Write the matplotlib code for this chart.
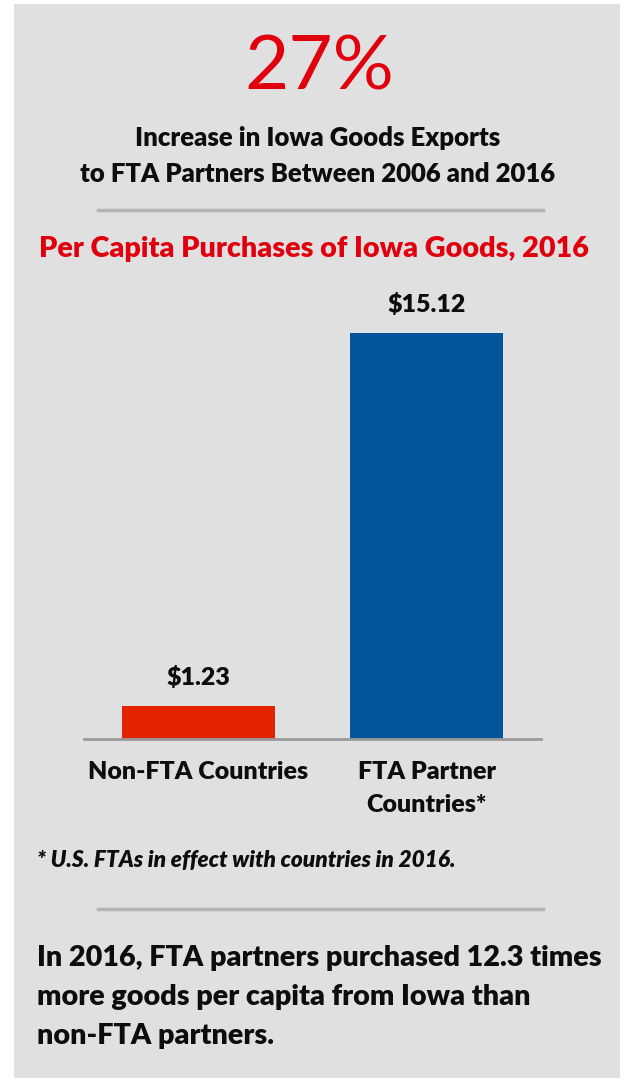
import matplotlib.pyplot as plt
from matplotlib.patches import Rectangle

plt.rcParams['font.family'] = ['Lato', 'DejaVu Sans']

# data
categories = ['Non-FTA Countries', 'FTA Partner\nCountries*']
values = [1.23, 15.12]
value_labels = ['$1.23', '$15.12']
bar_colors = ['#e42300', '#02559a']

headline = '27%'
headline_sub = 'Increase in Iowa Goods Exports\nto FTA Partners Between 2006 and 2016'
chart_title = 'Per Capita Purchases of Iowa Goods, 2016'
footnote = '* U.S. FTAs in effect with countries in 2016.'
summary = 'In 2016, FTA partners purchased 12.3 times\nmore goods per capita from Iowa than\nnon-FTA partners.'

W, H = 626, 1082
BG = '#e0e0e0'
RED_TXT = '#e0000d'
TXT = '#0d0d0d'
WT = 'heavy'


def fx(x):
    return x / W


def fy(y):
    # pixel from top -> figure fraction
    return 1 - y / H


fig = plt.figure(figsize=(W / 100, H / 100), dpi=100)
fig.patch.set_facecolor('white')
fig.add_artist(Rectangle((fx(14), fy(1078)), fx(606), 1074 / H,
                         transform=fig.transFigure, facecolor=BG,
                         edgecolor='none', zorder=0))

# header
fig.text(fx(319), fy(68), headline, ha='center', va='center',
         fontsize=55, color=RED_TXT)
fig.text(fx(318), fy(156), headline_sub, ha='center', va='center',
         fontsize=18.5, fontweight=WT, color=TXT, linespacing=1.55)
fig.add_artist(plt.Line2D([fx(98), fx(543)], [fy(210), fy(210)],
                          transform=fig.transFigure, color='#b4b4b4', lw=2.5))

fig.text(fx(314), fy(249), chart_title, ha='center', va='center',
         fontsize=20.7, fontweight=WT, color=RED_TXT)

# bar chart
ax = fig.add_axes([fx(84), fy(739), fx(541 - 84), (739 - 300) / H])
ax.set_facecolor('none')
xpos = list(range(len(categories)))
bars = ax.bar(xpos, values, width=0.668, color=bar_colors, zorder=2)
ax.set_xlim(-0.5, 1.5)
ax.set_ylim(0, 16.35)
for b, lab in zip(bars, value_labels):
    ax.annotate(lab, (b.get_x() + b.get_width() / 2, b.get_height()),
                xytext=(0, 12), textcoords='offset points',
                ha='center', va='bottom', fontsize=18, fontweight=WT,
                color=TXT)
ax.set_xticks(xpos)
ax.set_xticklabels(categories, fontsize=18, fontweight=WT,
                   color=TXT, linespacing=1.6)
ax.tick_params(axis='x', length=0, pad=16)
ax.set_yticks([])
for s in ['top', 'right', 'left']:
    ax.spines[s].set_visible(False)
ax.spines['bottom'].set_color('#9a9a9a')
ax.spines['bottom'].set_linewidth(2)

fig.text(fx(37), fy(860), footnote, ha='left', va='center',
         fontsize=16.3, fontweight=WT, fontstyle='italic', color=TXT)
fig.add_artist(plt.Line2D([fx(98), fx(543)], [fy(909), fy(909)],
                          transform=fig.transFigure, color='#b4b4b4', lw=2.5))

fig.text(fx(37), fy(997), summary, ha='left', va='center',
         fontsize=20.7, fontweight=WT, color=TXT, linespacing=1.62)

fig.savefig('out.png', dpi=100, facecolor=fig.get_facecolor())
